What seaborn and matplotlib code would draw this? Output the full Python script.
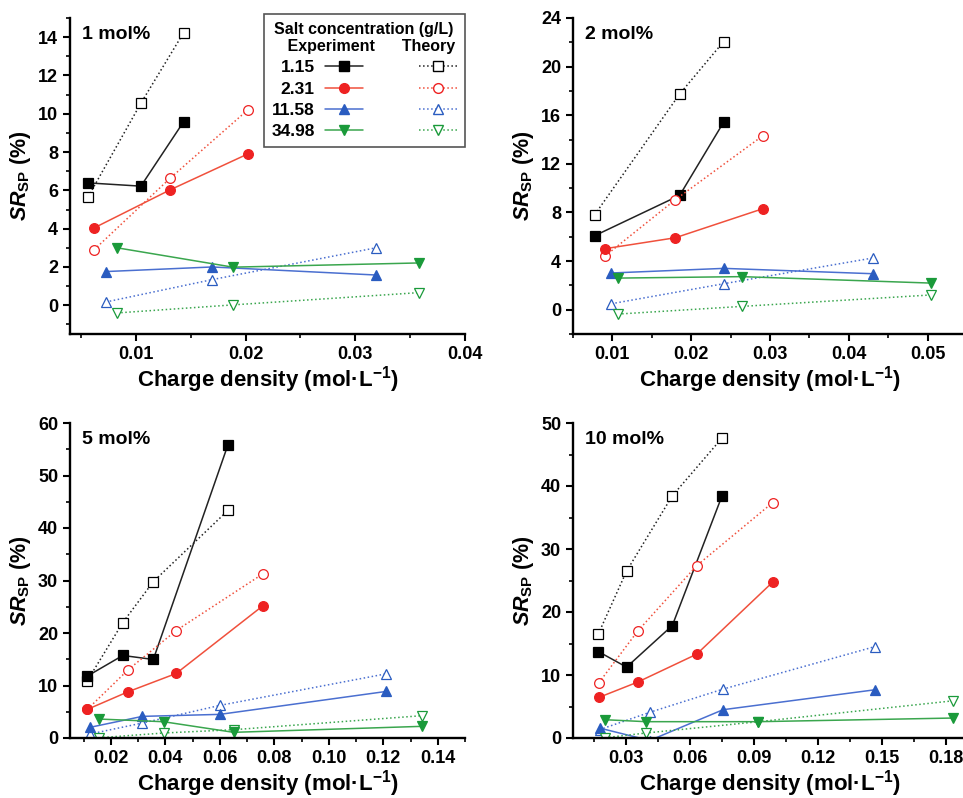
import matplotlib
matplotlib.use('Agg')
import matplotlib.pyplot as plt
from matplotlib.lines import Line2D
from matplotlib.ticker import MultipleLocator, FormatStrFormatter
import seaborn as sns

# salt concentrations (g/L)
salts = ['1.15', '2.31', '11.58', '34.98']

# 1 mol%
x1_exp = [[0.00565, 0.01046, 0.01435], [0.0062, 0.0131, 0.0202],
          [0.00726, 0.01696, 0.03188], [0.0083, 0.01885, 0.0358]]
y1_exp = [[6.39, 6.22, 9.58], [4.04, 6.02, 7.9], [1.76, 2.0, 1.58], [3.0, 1.99, 2.21]]
y1_th = [[5.66, 10.55, 14.23], [2.9, 6.62, 10.2], [0.17, 1.34, 3.0], [-0.4, 0.02, 0.66]]

# 2 mol%
x2_exp = [[0.00776, 0.01854, 0.0241], [0.00907, 0.01799, 0.0291],
          [0.00987, 0.02416, 0.04302], [0.01072, 0.0264, 0.05038]]
y2_exp = [[6.09, 9.41, 15.41], [5.02, 5.92, 8.31], [3.02, 3.40, 2.96], [2.6, 2.72, 2.19]]
y2_th = [[7.82, 17.75, 22.05], [4.42, 9.05, 14.32], [0.49, 2.14, 4.25], [-0.36, 0.27, 1.21]]

# 5 mol%
x5_exp = [[0.01136, 0.02438, 0.03558, 0.06297], [0.01136, 0.02633, 0.04398, 0.07589],
          [0.01233, 0.03157, 0.06, 0.1211], [0.01574, 0.03936, 0.06505, 0.1342]]
y5_exp = [[11.79, 15.72, 14.96, 55.83], [5.45, 8.81, 12.29, 25.22],
          [2.03, 4.12, 4.5, 8.87], [3.61, 3.1, 1.08, 2.22]]
y5_th = [[10.9, 21.99, 29.78, 43.35], [5.45, 12.99, 20.47, 31.3],
         [0.76, 2.85, 6.21, 12.23], [0.05, 0.95, 1.58, 4.25]]

# 10 mol%
x10_exp = [[0.01683, 0.03016, 0.05163, 0.07498], [0.01714, 0.03533, 0.06306, 0.0988],
           [0.01745, 0.04097, 0.07545, 0.1469], [0.02012, 0.03925, 0.0921, 0.18362]]
y10_exp = [[13.73, 11.25, 17.85, 38.44], [6.44, 8.87, 13.3, 24.76],
           [1.58, -0.4, 4.49, 7.66], [2.9, 2.59, 2.59, 3.17]]
y10_th = [[16.47, 26.5, 38.44, 47.62], [8.76, 16.95, 27.35, 37.38],
          [1.32, 4.07, 7.76, 14.52], [0.05, 0.79, 2.59, 5.91]]

line_cols = ['#222222', '#f0503c', '#4a6fd0', '#3aa64e']
mark_cols = ['#000000', '#ee2222', '#2a5cc0', '#1a9a3a']
markers = ['s', 'o', '^', 'v']

sns.set_theme(style='ticks')
plt.rcParams['font.family'] = ['Liberation Sans', 'DejaVu Sans']
plt.rcParams['font.weight'] = 'bold'
plt.rcParams['axes.labelweight'] = 'bold'
plt.rcParams['text.color'] = 'black'
plt.rcParams['axes.labelcolor'] = 'black'
plt.rcParams['xtick.color'] = 'black'
plt.rcParams['ytick.color'] = 'black'
plt.rcParams['mathtext.fontset'] = 'custom'
plt.rcParams['mathtext.it'] = 'Liberation Sans:bold:italic'
plt.rcParams['mathtext.rm'] = 'Liberation Sans:bold'
plt.rcParams['mathtext.bf'] = 'Liberation Sans:bold'

fig = plt.figure(figsize=(9.63, 7.98), dpi=100)
W, H = 963, 798


def make_ax(l, t, r, b):
    return fig.add_axes([l / W, 1 - b / H, (r - l) / W, (b - t) / H])


panels = [
    dict(ax=make_ax(70, 18, 465, 334), xs=x1_exp, ye=y1_exp, yt=y1_th, title='1 mol%',
         xlim=(0.004, 0.04), ylim=(-1.5, 15), xmaj=0.01, ymaj=2),
    dict(ax=make_ax(573, 18, 967, 334), xs=x2_exp, ye=y2_exp, yt=y2_th, title='2 mol%',
         xlim=(0.005, 0.055), ylim=(-2, 24), xmaj=0.01, ymaj=4),
    dict(ax=make_ax(70, 423, 465, 738), xs=x5_exp, ye=y5_exp, yt=y5_th, title='5 mol%',
         xlim=(0.005, 0.15), ylim=(0, 60), xmaj=0.02, ymaj=10),
    dict(ax=make_ax(573, 423, 967, 738), xs=x10_exp, ye=y10_exp, yt=y10_th, title='10 mol%',
         xlim=(0.005, 0.19), ylim=(0, 50), xmaj=0.03, ymaj=10),
]

for p in panels:
    ax = p['ax']
    for i in range(4):
        sns.lineplot(x=p['xs'][i], y=p['yt'][i], ax=ax, color=line_cols[i], linestyle=':',
                     linewidth=1.1, marker=markers[i], markersize=7,
                     markerfacecolor='white', markeredgecolor=mark_cols[i],
                     markeredgewidth=0.9, legend=False, sort=False)
        sns.lineplot(x=p['xs'][i], y=p['ye'][i], ax=ax, color=line_cols[i], linestyle='-',
                     linewidth=1.1, marker=markers[i], markersize=7,
                     markerfacecolor=mark_cols[i], markeredgecolor=mark_cols[i],
                     markeredgewidth=0.9, legend=False, sort=False)
    ax.set_xlim(*p['xlim'])
    ax.set_ylim(*p['ylim'])
    ax.xaxis.set_major_locator(MultipleLocator(p['xmaj']))
    ax.xaxis.set_minor_locator(MultipleLocator(p['xmaj'] / 2))
    ax.yaxis.set_major_locator(MultipleLocator(p['ymaj']))
    ax.yaxis.set_minor_locator(MultipleLocator(p['ymaj'] / 2))
    ax.xaxis.set_major_formatter(FormatStrFormatter('%.2f'))
    ax.yaxis.set_major_formatter(FormatStrFormatter('%d'))
    for s in ['top', 'right']:
        ax.spines[s].set_visible(False)
    for s in ['left', 'bottom']:
        ax.spines[s].set_linewidth(1.7)
        ax.spines[s].set_color('black')
    ax.tick_params(which='major', direction='out', length=5, width=1.5, labelsize=13,
                   color='black', labelcolor='black')
    ax.tick_params(which='minor', direction='out', length=3, width=1.2, color='black')
    for lab in ax.get_xticklabels() + ax.get_yticklabels():
        lab.set_fontweight('bold')
    ax.set_xlabel('Charge density (mol·L$^{\\mathbf{−1}}$)', fontsize=16, labelpad=1)
    ax.set_ylabel(r'$SR_{\mathrm{SP}}$ (%)', fontsize=15.5, labelpad=4)
    ax.text(0.03, 0.975, p['title'], transform=ax.transAxes, fontsize=14,
            fontweight='bold', va='top', ha='left')
    ax.set_facecolor('white')

# legend in the first panel
ax = panels[0]['ax']
handles, labels = [], []
for i in range(4):
    handles.append(Line2D([], [], color=line_cols[i], linestyle='-', linewidth=1.1,
                          marker=markers[i], markersize=7, markerfacecolor=mark_cols[i],
                          markeredgecolor=mark_cols[i]))
    labels.append(salts[i])
for i in range(4):
    handles.append(Line2D([], [], color=line_cols[i], linestyle=':', linewidth=1.1,
                          marker=markers[i], markersize=7, markerfacecolor='white',
                          markeredgecolor=mark_cols[i]))
    labels.append('')
leg = ax.legend(handles, labels, ncol=2, markerfirst=False, loc='upper right',
                bbox_to_anchor=(465 / W, 1 - 14 / H), bbox_transform=fig.transFigure,
                frameon=True, fancybox=False,
                edgecolor='#555555', framealpha=1, fontsize=12.5,
                title='Salt concentration (g/L)\n   Experiment      Theory',
                title_fontproperties={'weight': 'bold', 'size': 11.5},
                columnspacing=2.6, handlelength=2.2, labelspacing=0.35,
                borderpad=0.45, handletextpad=0.6, borderaxespad=0)
leg.get_frame().set_linewidth(1.2)
for t in leg.get_texts():
    t.set_fontweight('bold')

fig.savefig('out.png', dpi=100, facecolor='white')
